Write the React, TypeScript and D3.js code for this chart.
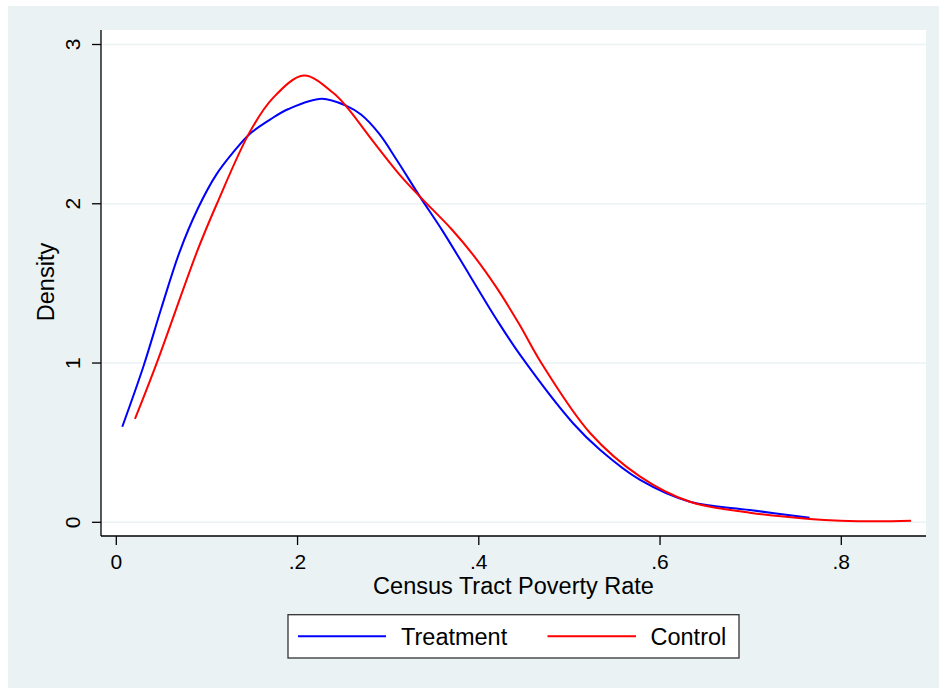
import React from "react";
import * as d3 from "d3";

const treatmentX = [0.0066, 0.03, 0.05, 0.07, 0.09, 0.11, 0.13, 0.1475, 0.17, 0.19, 0.2266, 0.254, 0.27, 0.29, 0.31, 0.335, 0.36, 0.39, 0.42, 0.447, 0.504, 0.534, 0.578, 0.633, 0.699, 0.765];
const treatmentY = [0.60, 0.98, 1.35, 1.70, 1.97, 2.18, 2.33, 2.44, 2.53, 2.595, 2.66, 2.615, 2.56, 2.44, 2.27, 2.045, 1.83, 1.55, 1.27, 1.04, 0.622, 0.454, 0.266, 0.129, 0.077, 0.029];

const controlX = [0.0206, 0.0446, 0.0898, 0.111, 0.1475, 0.173, 0.2071, 0.2395, 0.254, 0.2836, 0.313, 0.335, 0.37, 0.395, 0.42, 0.445, 0.469, 0.523, 0.578, 0.633, 0.699, 0.765, 0.799, 0.84, 0.877];
const controlY = [0.649, 1.00, 1.71, 2.00, 2.453, 2.665, 2.805, 2.695, 2.61, 2.39, 2.18, 2.045, 1.84, 1.67, 1.47, 1.24, 1.0, 0.559, 0.287, 0.129, 0.06, 0.021, 0.01, 0.006, 0.01];

const xTicks = [0, 0.2, 0.4, 0.6, 0.8];
const xTickLabels = ["0", ".2", ".4", ".6", ".8"];
const yTicks = [0, 1, 2, 3];
const yTickLabels = ["0", "1", "2", "3"];

const seriesNames = ["Treatment", "Control"];
const seriesColors = ["#0000FF", "#FF0000"];

const FONT = "'Liberation Sans', Arial, Helvetica, sans-serif";

export default function App() {
  const W = 939, H = 688;
  const plotL = 101, plotR = 926, plotT = 30, plotB = 536;
  const x = d3.scaleLinear().domain([0, 0.8]).range([116.3, 841.3]);
  const y = d3.scaleLinear().domain([0, 3]).range([522.3, 44.5]);

  const line = d3
    .line<[number, number]>()
    .x((d) => x(d[0]))
    .y((d) => y(d[1]))
    .curve(d3.curveCatmullRom.alpha(0.5));

  const tData: [number, number][] = treatmentX.map((v, i) => [v, treatmentY[i]]);
  const cData: [number, number][] = controlX.map((v, i) => [v, controlY[i]]);

  return (
    <div style={{ position: "absolute", left: 0, top: 0, width: W, height: H }}>
      <svg width={W} height={H} style={{ display: "block" }} fontFamily={FONT}>
        <rect x={0} y={0} width={W} height={H} fill="#ffffff" />
        <rect x={8} y={6} width={W - 8} height={H - 6} fill="#EAF2F3" />
        <rect x={plotL} y={plotT} width={plotR - plotL} height={plotB - plotT} fill="#ffffff" />
        {yTicks.map((t) => (
          <line key={"g" + t} x1={plotL} x2={plotR} y1={y(t)} y2={y(t)} stroke="#EAF2F3" strokeWidth={1.6} />
        ))}
        <path d={line(tData) || ""} fill="none" stroke={seriesColors[0]} strokeWidth={2} />
        <path d={line(cData) || ""} fill="none" stroke={seriesColors[1]} strokeWidth={2} />
        <line x1={plotL} x2={plotL} y1={plotT} y2={plotB} stroke="#000" strokeWidth={1.3} />
        <line x1={plotL} x2={plotR} y1={plotB} y2={plotB} stroke="#000" strokeWidth={1.3} />
        {yTicks.map((t, i) => (
          <g key={"yt" + t}>
            <line x1={plotL - 9} x2={plotL} y1={y(t)} y2={y(t)} stroke="#000" strokeWidth={1.3} />
            <text
              transform={`translate(79.5,${y(t)}) rotate(-90)`}
              textAnchor="middle"
              fontSize={21}
              fill="#000"
            >
              {yTickLabels[i]}
            </text>
          </g>
        ))}
        {xTicks.map((t, i) => (
          <g key={"xt" + t}>
            <line x1={x(t)} x2={x(t)} y1={plotB} y2={plotB + 9} stroke="#000" strokeWidth={1.3} />
            <text x={x(t)} y={568.5} textAnchor="middle" fontSize={21} fill="#000">
              {xTickLabels[i]}
            </text>
          </g>
        ))}
        <text x={513.5} y={594} textAnchor="middle" fontSize={23.5} fill="#000">
          Census Tract Poverty Rate
        </text>
        <text transform="translate(54,282) rotate(-90)" textAnchor="middle" fontSize={23.5} fill="#000">
          Density
        </text>
        <rect x={288} y={614.7} width={451} height={43.3} fill="#ffffff" stroke="#333" strokeWidth={1.3} />
        <line x1={298} x2={386} y1={636.3} y2={636.3} stroke={seriesColors[0]} strokeWidth={2} />
        <text x={401} y={645} fontSize={23.5} fill="#000">{seriesNames[0]}</text>
        <line x1={547.5} x2={636} y1={636.3} y2={636.3} stroke={seriesColors[1]} strokeWidth={2} />
        <text x={650.5} y={645} fontSize={23.5} fill="#000">{seriesNames[1]}</text>
      </svg>
    </div>
  );
}
